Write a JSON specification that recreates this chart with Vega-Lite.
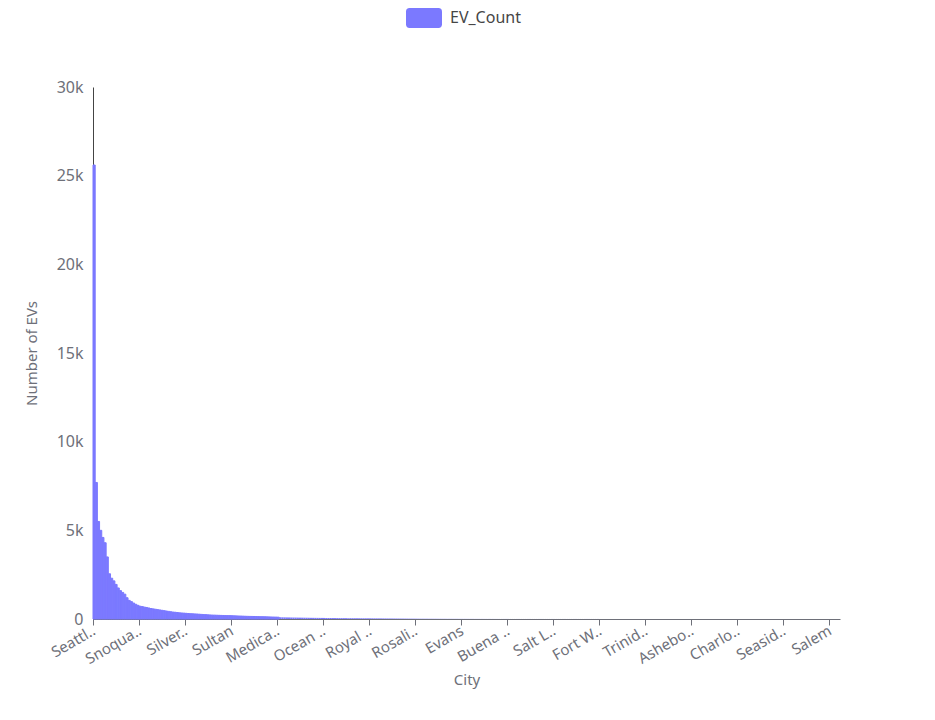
{
  "$schema": "https://vega.github.io/schema/vega-lite/v6.json",
  "width": 747,
  "height": 532,
  "autosize": {"type": "none"},
  "padding": {"left": 93, "top": 87, "right": 95, "bottom": 101},
  "background": "white",
  "config": {
    "view": {"stroke": null},
    "font": "Noto Sans"
  },
  "data": {
    "values": [
      {"city": "Seattle", "count": 25600},
      {"city": "Bellevue", "count": 7700},
      {"city": "Redmond", "count": 5500},
      {"city": "Vancouver", "count": 5000},
      {"city": "Bothell", "count": 4600},
      {"city": "Kirkland", "count": 4300},
      {"city": "Sammamish", "count": 3500},
      {"city": "Renton", "count": 2550},
      {"city": "Olympia", "count": 2300},
      {"city": "Tacoma", "count": 2150},
      {"city": "Everett", "count": 1950},
      {"city": "Kent", "count": 1750},
      {"city": "Spokane", "count": 1600},
      {"city": "Issaquah", "count": 1500},
      {"city": "Woodinville", "count": 1400},
      {"city": "Bellingham", "count": 1200},
      {"city": "Mercer Island", "count": 1050},
      {"city": "Puyallup", "count": 980},
      {"city": "Lynnwood", "count": 900},
      {"city": "Federal Way", "count": 830},
      {"city": "Edmonds", "count": 770},
      {"city": "Snoqualmie", "count": 720},
      {"city": "Auburn", "count": 700},
      {"city": "Shoreline", "count": 670},
      {"city": "Bainbridge Island", "count": 650},
      {"city": "Snohomish", "count": 620},
      {"city": "Kenmore", "count": 590},
      {"city": "Camas", "count": 570},
      {"city": "Lake Stevens", "count": 550},
      {"city": "Gig Harbor", "count": 530},
      {"city": "Marysville", "count": 510},
      {"city": "Mukilteo", "count": 490},
      {"city": "Maple Valley", "count": 470},
      {"city": "Richland", "count": 450},
      {"city": "Port Orchard", "count": 430},
      {"city": "Kennewick", "count": 410},
      {"city": "Lacey", "count": 390},
      {"city": "Newcastle", "count": 380},
      {"city": "Duvall", "count": 365},
      {"city": "Battle Ground", "count": 350},
      {"city": "Yakima", "count": 340},
      {"city": "Poulsbo", "count": 330},
      {"city": "Silverdale", "count": 320},
      {"city": "Mill Creek", "count": 310},
      {"city": "Burien", "count": 300},
      {"city": "Bremerton", "count": 295},
      {"city": "Arlington", "count": 285},
      {"city": "Walla Walla", "count": 280},
      {"city": "Tumwater", "count": 270},
      {"city": "Anacortes", "count": 260},
      {"city": "Mount Vernon", "count": 250},
      {"city": "Pullman", "count": 245},
      {"city": "Port Townsend", "count": 235},
      {"city": "Wenatchee", "count": 228},
      {"city": "Spokane Valley", "count": 222},
      {"city": "Ridgefield", "count": 218},
      {"city": "Enumclaw", "count": 212},
      {"city": "Lake Forest Park", "count": 207},
      {"city": "Vashon", "count": 202},
      {"city": "Monroe", "count": 198},
      {"city": "University Place", "count": 195},
      {"city": "Black Diamond", "count": 192},
      {"city": "Longview", "count": 189},
      {"city": "Sultan", "count": 185},
      {"city": "Bonney Lake", "count": 180},
      {"city": "Ferndale", "count": 175},
      {"city": "Des Moines", "count": 170},
      {"city": "Stanwood", "count": 165},
      {"city": "Orting", "count": 160},
      {"city": "Oak Harbor", "count": 155},
      {"city": "Sequim", "count": 150},
      {"city": "Port Angeles", "count": 147},
      {"city": "Washougal", "count": 144},
      {"city": "Lakewood", "count": 141},
      {"city": "Ellensburg", "count": 138},
      {"city": "Burlington", "count": 135},
      {"city": "Langley", "count": 132},
      {"city": "Carnation", "count": 130},
      {"city": "Fall City", "count": 126},
      {"city": "Clinton", "count": 122},
      {"city": "Fox Island", "count": 118},
      {"city": "Granite Falls", "count": 114},
      {"city": "Brush Prairie", "count": 110},
      {"city": "Liberty Lake", "count": 106},
      {"city": "Medical Lake", "count": 102},
      {"city": "Sedro-Woolley", "count": 99},
      {"city": "Coupeville", "count": 96},
      {"city": "Freeland", "count": 93},
      {"city": "Edgewood", "count": 90},
      {"city": "Lynden", "count": 88},
      {"city": "Blaine", "count": 85},
      {"city": "Yelm", "count": 83},
      {"city": "Kingston", "count": 81},
      {"city": "Eastsound", "count": 79},
      {"city": "Friday Harbor", "count": 77},
      {"city": "Kalama", "count": 75},
      {"city": "Centralia", "count": 73},
      {"city": "Chehalis", "count": 71},
      {"city": "Moses Lake", "count": 69},
      {"city": "Shelton", "count": 67},
      {"city": "Hansville", "count": 66},
      {"city": "Belfair", "count": 64},
      {"city": "Cheney", "count": 63},
      {"city": "Aberdeen", "count": 62},
      {"city": "Milton", "count": 61},
      {"city": "Ocean Shores", "count": 60},
      {"city": "Chelan", "count": 58},
      {"city": "West Richland", "count": 57},
      {"city": "Pasco", "count": 55},
      {"city": "Fife", "count": 54},
      {"city": "Sumner", "count": 53},
      {"city": "Tukwila", "count": 52},
      {"city": "Normandy Park", "count": 51},
      {"city": "Covington", "count": 50},
      {"city": "Woodland", "count": 49},
      {"city": "Castle Rock", "count": 48},
      {"city": "Kelso", "count": 47},
      {"city": "La Center", "count": 46},
      {"city": "Vaughn", "count": 45},
      {"city": "Lakebay", "count": 44},
      {"city": "Olalla", "count": 43},
      {"city": "Allyn", "count": 42},
      {"city": "Rochester", "count": 41},
      {"city": "Eatonville", "count": 40},
      {"city": "Graham", "count": 40},
      {"city": "Spanaway", "count": 39},
      {"city": "Royal City", "count": 38},
      {"city": "Steilacoom", "count": 37},
      {"city": "DuPont", "count": 36},
      {"city": "Buckley", "count": 35},
      {"city": "Ravensdale", "count": 34},
      {"city": "Hobart", "count": 33},
      {"city": "Leavenworth", "count": 32},
      {"city": "Cashmere", "count": 31},
      {"city": "East Wenatchee", "count": 30},
      {"city": "Quincy", "count": 29},
      {"city": "Ephrata", "count": 28},
      {"city": "Othello", "count": 27},
      {"city": "Prosser", "count": 26},
      {"city": "Sunnyside", "count": 25},
      {"city": "Grandview", "count": 24},
      {"city": "Toppenish", "count": 23},
      {"city": "Selah", "count": 22},
      {"city": "Union Gap", "count": 21},
      {"city": "Goldendale", "count": 20},
      {"city": "White Salmon", "count": 19},
      {"city": "Stevenson", "count": 18},
      {"city": "Rosalia", "count": 17},
      {"city": "Colfax", "count": 16},
      {"city": "Clarkston", "count": 15},
      {"city": "Dayton", "count": 15},
      {"city": "Waitsburg", "count": 14},
      {"city": "College Place", "count": 14},
      {"city": "Benton City", "count": 13},
      {"city": "Connell", "count": 13},
      {"city": "Ritzville", "count": 12},
      {"city": "Davenport", "count": 12},
      {"city": "Deer Park", "count": 11},
      {"city": "Chattaroy", "count": 11},
      {"city": "Colbert", "count": 10},
      {"city": "Nine Mile Falls", "count": 10},
      {"city": "Newport", "count": 9},
      {"city": "Colville", "count": 9},
      {"city": "Kettle Falls", "count": 9},
      {"city": "Chewelah", "count": 8},
      {"city": "Republic", "count": 8},
      {"city": "Omak", "count": 8},
      {"city": "Okanogan", "count": 7},
      {"city": "Evans", "count": 7},
      {"city": "Tonasket", "count": 7},
      {"city": "Oroville", "count": 6},
      {"city": "Twisp", "count": 6},
      {"city": "Winthrop", "count": 6},
      {"city": "Pateros", "count": 6},
      {"city": "Brewster", "count": 5},
      {"city": "Bridgeport", "count": 5},
      {"city": "Entiat", "count": 5},
      {"city": "Manson", "count": 5},
      {"city": "Soap Lake", "count": 4},
      {"city": "Grand Coulee", "count": 4},
      {"city": "Coulee Dam", "count": 4},
      {"city": "Wilbur", "count": 4},
      {"city": "Odessa", "count": 4},
      {"city": "Warden", "count": 3},
      {"city": "Mattawa", "count": 3},
      {"city": "George", "count": 3},
      {"city": "Kittitas", "count": 3},
      {"city": "Cle Elum", "count": 3},
      {"city": "Roslyn", "count": 3},
      {"city": "Buena Park", "count": 3},
      {"city": "Ronald", "count": 2},
      {"city": "Easton", "count": 2},
      {"city": "Naches", "count": 2},
      {"city": "Tieton", "count": 2},
      {"city": "Moxee", "count": 2},
      {"city": "Wapato", "count": 2},
      {"city": "Zillah", "count": 2},
      {"city": "Granger", "count": 2},
      {"city": "Mabton", "count": 2},
      {"city": "Bickleton", "count": 2},
      {"city": "Lyle", "count": 2},
      {"city": "Carson", "count": 2},
      {"city": "North Bonneville", "count": 2},
      {"city": "Amboy", "count": 2},
      {"city": "Yacolt", "count": 2},
      {"city": "Cougar", "count": 2},
      {"city": "Ariel", "count": 2},
      {"city": "Toutle", "count": 2},
      {"city": "Silver Creek", "count": 2},
      {"city": "Morton", "count": 2},
      {"city": "Salt Lake City", "count": 2},
      {"city": "Mossyrock", "count": 2},
      {"city": "Randle", "count": 2},
      {"city": "Packwood", "count": 2},
      {"city": "Winlock", "count": 2},
      {"city": "Napavine", "count": 2},
      {"city": "Toledo", "count": 2},
      {"city": "Vader", "count": 2},
      {"city": "Pe Ell", "count": 2},
      {"city": "Raymond", "count": 2},
      {"city": "South Bend", "count": 2},
      {"city": "Ilwaco", "count": 2},
      {"city": "Long Beach", "count": 2},
      {"city": "Ocean Park", "count": 2},
      {"city": "Westport", "count": 2},
      {"city": "Montesano", "count": 2},
      {"city": "Elma", "count": 2},
      {"city": "McCleary", "count": 2},
      {"city": "Hoquiam", "count": 2},
      {"city": "Cosmopolis", "count": 2},
      {"city": "Forks", "count": 2},
      {"city": "Fort Worth", "count": 1},
      {"city": "Neah Bay", "count": 1},
      {"city": "Clallam Bay", "count": 1},
      {"city": "Quilcene", "count": 1},
      {"city": "Brinnon", "count": 1},
      {"city": "Hoodsport", "count": 1},
      {"city": "Union", "count": 1},
      {"city": "Grapeview", "count": 1},
      {"city": "Tahuya", "count": 1},
      {"city": "Seabeck", "count": 1},
      {"city": "Suquamish", "count": 1},
      {"city": "Indianola", "count": 1},
      {"city": "Keyport", "count": 1},
      {"city": "Manchester", "count": 1},
      {"city": "Burley", "count": 1},
      {"city": "Anderson Island", "count": 1},
      {"city": "Roy", "count": 1},
      {"city": "McKenna", "count": 1},
      {"city": "Carbonado", "count": 1},
      {"city": "Wilkeson", "count": 1},
      {"city": "Greenwater", "count": 1},
      {"city": "Trinidad", "count": 1},
      {"city": "Index", "count": 1},
      {"city": "Gold Bar", "count": 1},
      {"city": "Startup", "count": 1},
      {"city": "Darrington", "count": 1},
      {"city": "Concrete", "count": 1},
      {"city": "Marblemount", "count": 1},
      {"city": "Rockport", "count": 1},
      {"city": "La Conner", "count": 1},
      {"city": "Bow", "count": 1},
      {"city": "Conway", "count": 1},
      {"city": "Everson", "count": 1},
      {"city": "Sumas", "count": 1},
      {"city": "Nooksack", "count": 1},
      {"city": "Deming", "count": 1},
      {"city": "Maple Falls", "count": 1},
      {"city": "Point Roberts", "count": 1},
      {"city": "Lummi Island", "count": 1},
      {"city": "Lopez Island", "count": 1},
      {"city": "Orcas", "count": 1},
      {"city": "Olga", "count": 1},
      {"city": "Asheboro", "count": 1},
      {"city": "Deer Harbor", "count": 1},
      {"city": "Greenbank", "count": 1},
      {"city": "Camano Island", "count": 1},
      {"city": "Nordland", "count": 1},
      {"city": "Port Hadlock", "count": 1},
      {"city": "Port Ludlow", "count": 1},
      {"city": "Chimacum", "count": 1},
      {"city": "Carlsborg", "count": 1},
      {"city": "Joyce", "count": 1},
      {"city": "Beaver", "count": 1},
      {"city": "Portland", "count": 1},
      {"city": "Beaverton", "count": 1},
      {"city": "Hillsboro", "count": 1},
      {"city": "Lake Oswego", "count": 1},
      {"city": "Boise", "count": 1},
      {"city": "Coeur d'Alene", "count": 1},
      {"city": "Post Falls", "count": 1},
      {"city": "Moscow", "count": 1},
      {"city": "Lewiston", "count": 1},
      {"city": "San Diego", "count": 1},
      {"city": "Charlotte", "count": 1},
      {"city": "Los Angeles", "count": 1},
      {"city": "San Jose", "count": 1},
      {"city": "Sacramento", "count": 1},
      {"city": "Phoenix", "count": 1},
      {"city": "Scottsdale", "count": 1},
      {"city": "Las Vegas", "count": 1},
      {"city": "Reno", "count": 1},
      {"city": "Denver", "count": 1},
      {"city": "Austin", "count": 1},
      {"city": "Houston", "count": 1},
      {"city": "Dallas", "count": 1},
      {"city": "San Antonio", "count": 1},
      {"city": "Chicago", "count": 1},
      {"city": "Atlanta", "count": 1},
      {"city": "Miami", "count": 1},
      {"city": "Orlando", "count": 1},
      {"city": "Tampa", "count": 1},
      {"city": "New York", "count": 1},
      {"city": "Boston", "count": 1},
      {"city": "Alexandria", "count": 1},
      {"city": "Seaside", "count": 1},
      {"city": "Arlington Heights", "count": 1},
      {"city": "Annapolis", "count": 1},
      {"city": "Columbus", "count": 1},
      {"city": "Detroit", "count": 1},
      {"city": "Minneapolis", "count": 1},
      {"city": "Kansas City", "count": 1},
      {"city": "Omaha", "count": 1},
      {"city": "Tucson", "count": 1},
      {"city": "Albuquerque", "count": 1},
      {"city": "El Paso", "count": 1},
      {"city": "Oklahoma City", "count": 1},
      {"city": "Nashville", "count": 1},
      {"city": "Raleigh", "count": 1},
      {"city": "Virginia Beach", "count": 1},
      {"city": "Honolulu", "count": 1},
      {"city": "Anchorage", "count": 1},
      {"city": "Juneau", "count": 1},
      {"city": "Bend", "count": 1},
      {"city": "Eugene", "count": 1},
      {"city": "Medford", "count": 1},
      {"city": "Salem", "count": 1},
      {"city": "Corvallis", "count": 1},
      {"city": "Missoula", "count": 1},
      {"city": "Billings", "count": 1},
      {"city": "Helena", "count": 1}
    ]
  },
  "mark": {"type": "bar", "stroke": "#7b79ff"},
  "encoding": {
    "x": {
      "field": "city",
      "type": "nominal",
      "sort": null,
      "scale": {"paddingInner": 0, "paddingOuter": 0},
      "axis": {
        "title": "City",
        "values": ["Seattle", "Snoqualmie", "Silverdale", "Sultan", "Medical Lake", "Ocean Shores", "Royal City", "Rosalia", "Evans", "Buena Park", "Salt Lake City", "Fort Worth", "Trinidad", "Asheboro", "Charlotte", "Seaside", "Salem"],
        "labelExpr": "length(datum.label) > 6 ? slice(datum.label, 0, 6) + '..' : datum.label",
        "bandPosition": 0,
        "labelAngle": -30,
        "labelAlign": "right",
        "labelBaseline": "middle",
        "labelPadding": 4,
        "labelFontSize": 15,
        "labelColor": "#6e7079",
        "labelOverlap": false,
        "tickColor": "#6e7079",
        "tickSize": 6,
        "domainColor": "#6e7079",
        "titleFontSize": 15,
        "titleFontWeight": "normal",
        "titleColor": "#6e7079",
        "titlePadding": 6,
        "grid": false
      }
    },
    "y": {
      "field": "count",
      "type": "quantitative",
      "scale": {"domain": [0, 30000], "nice": false},
      "axis": {
        "title": "Number of EVs",
        "values": [0, 5000, 10000, 15000, 20000, 25000, 30000],
        "labelExpr": "datum.value == 0 ? '0' : (datum.value / 1000) + 'k'",
        "labelOverlap": false,
        "ticks": false,
        "labelPadding": 10,
        "labelFontSize": 16,
        "labelColor": "#6e7079",
        "domainColor": "#444444",
        "titleFontSize": 15,
        "titleFontWeight": "normal",
        "titleColor": "#6e7079",
        "titlePadding": 17,
        "grid": false
      }
    },
    "strokeWidth": {
      "condition": {"test": "datum.count > 100", "value": 1},
      "value": 0
    },
    "color": {
      "datum": "EV_Count",
      "type": "nominal",
      "scale": {"range": ["#7b79ff"]},
      "legend": {
        "title": null,
        "orient": "none",
        "legendX": 313,
        "legendY": -87,
        "symbolType": "M-0.8,-0.55L0.8,-0.55Q1,-0.55 1,-0.35L1,0.35Q1,0.55 0.8,0.55L-0.8,0.55Q-1,0.55 -1,0.35L-1,-0.35Q-1,-0.55 -0.8,-0.55Z",
        "symbolSize": 1296,
        "symbolStrokeWidth": 0,
        "symbolOpacity": 1,
        "labelFontSize": 16,
        "labelColor": "#464646",
        "labelOffset": 8
      }
    }
  }
}
